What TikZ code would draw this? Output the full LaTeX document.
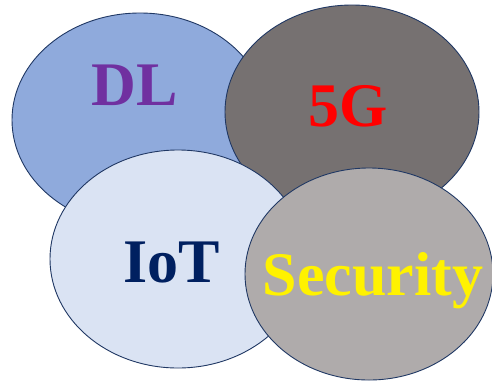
\documentclass[tikz,border=0pt]{standalone}
\usepackage{fontspec}
\setmainfont{Liberation Serif}
\definecolor{dlfill}{HTML}{8FAADC}
\definecolor{fgfill}{HTML}{767171}
\definecolor{iotfill}{HTML}{DAE3F3}
\definecolor{secfill}{HTML}{AFABAB}
\definecolor{edge}{HTML}{203864}
\definecolor{dltext}{HTML}{7030A0}
\definecolor{iottext}{HTML}{002060}
\tikzset{
  blob/.style={draw=edge, line width=0.9pt},
  label/.style={font=\fontsize{62}{62}\selectfont\bfseries, anchor=base, inner sep=0pt}
}
\begin{document}
\begin{tikzpicture}[x=1pt,y=-1pt]
\useasboundingbox (0,0) rectangle (492,384);
\fill[white] (0,0) rectangle (492,384);
\draw[blob, fill=dlfill] (140,120) ellipse [x radius=128pt, y radius=107pt];
\draw[blob, fill=fgfill] (352,112) ellipse [x radius=127pt, y radius=107pt];
\draw[blob, fill=iotfill] (178,259) ellipse [x radius=128pt, y radius=109pt];
\draw[blob, fill=secfill] (369,274) ellipse [x radius=124pt, y radius=106pt];
\node[label, text=dltext] (dl) at (135,105) {DL};
\node[label, text=red] (fg) at (348,126) {5G};
\node[label, text=iottext] (iot) at (172,282) {IoT};
\node[label, text=yellow] (sec) at (373,295) {Security};
\end{tikzpicture}
\end{document}
